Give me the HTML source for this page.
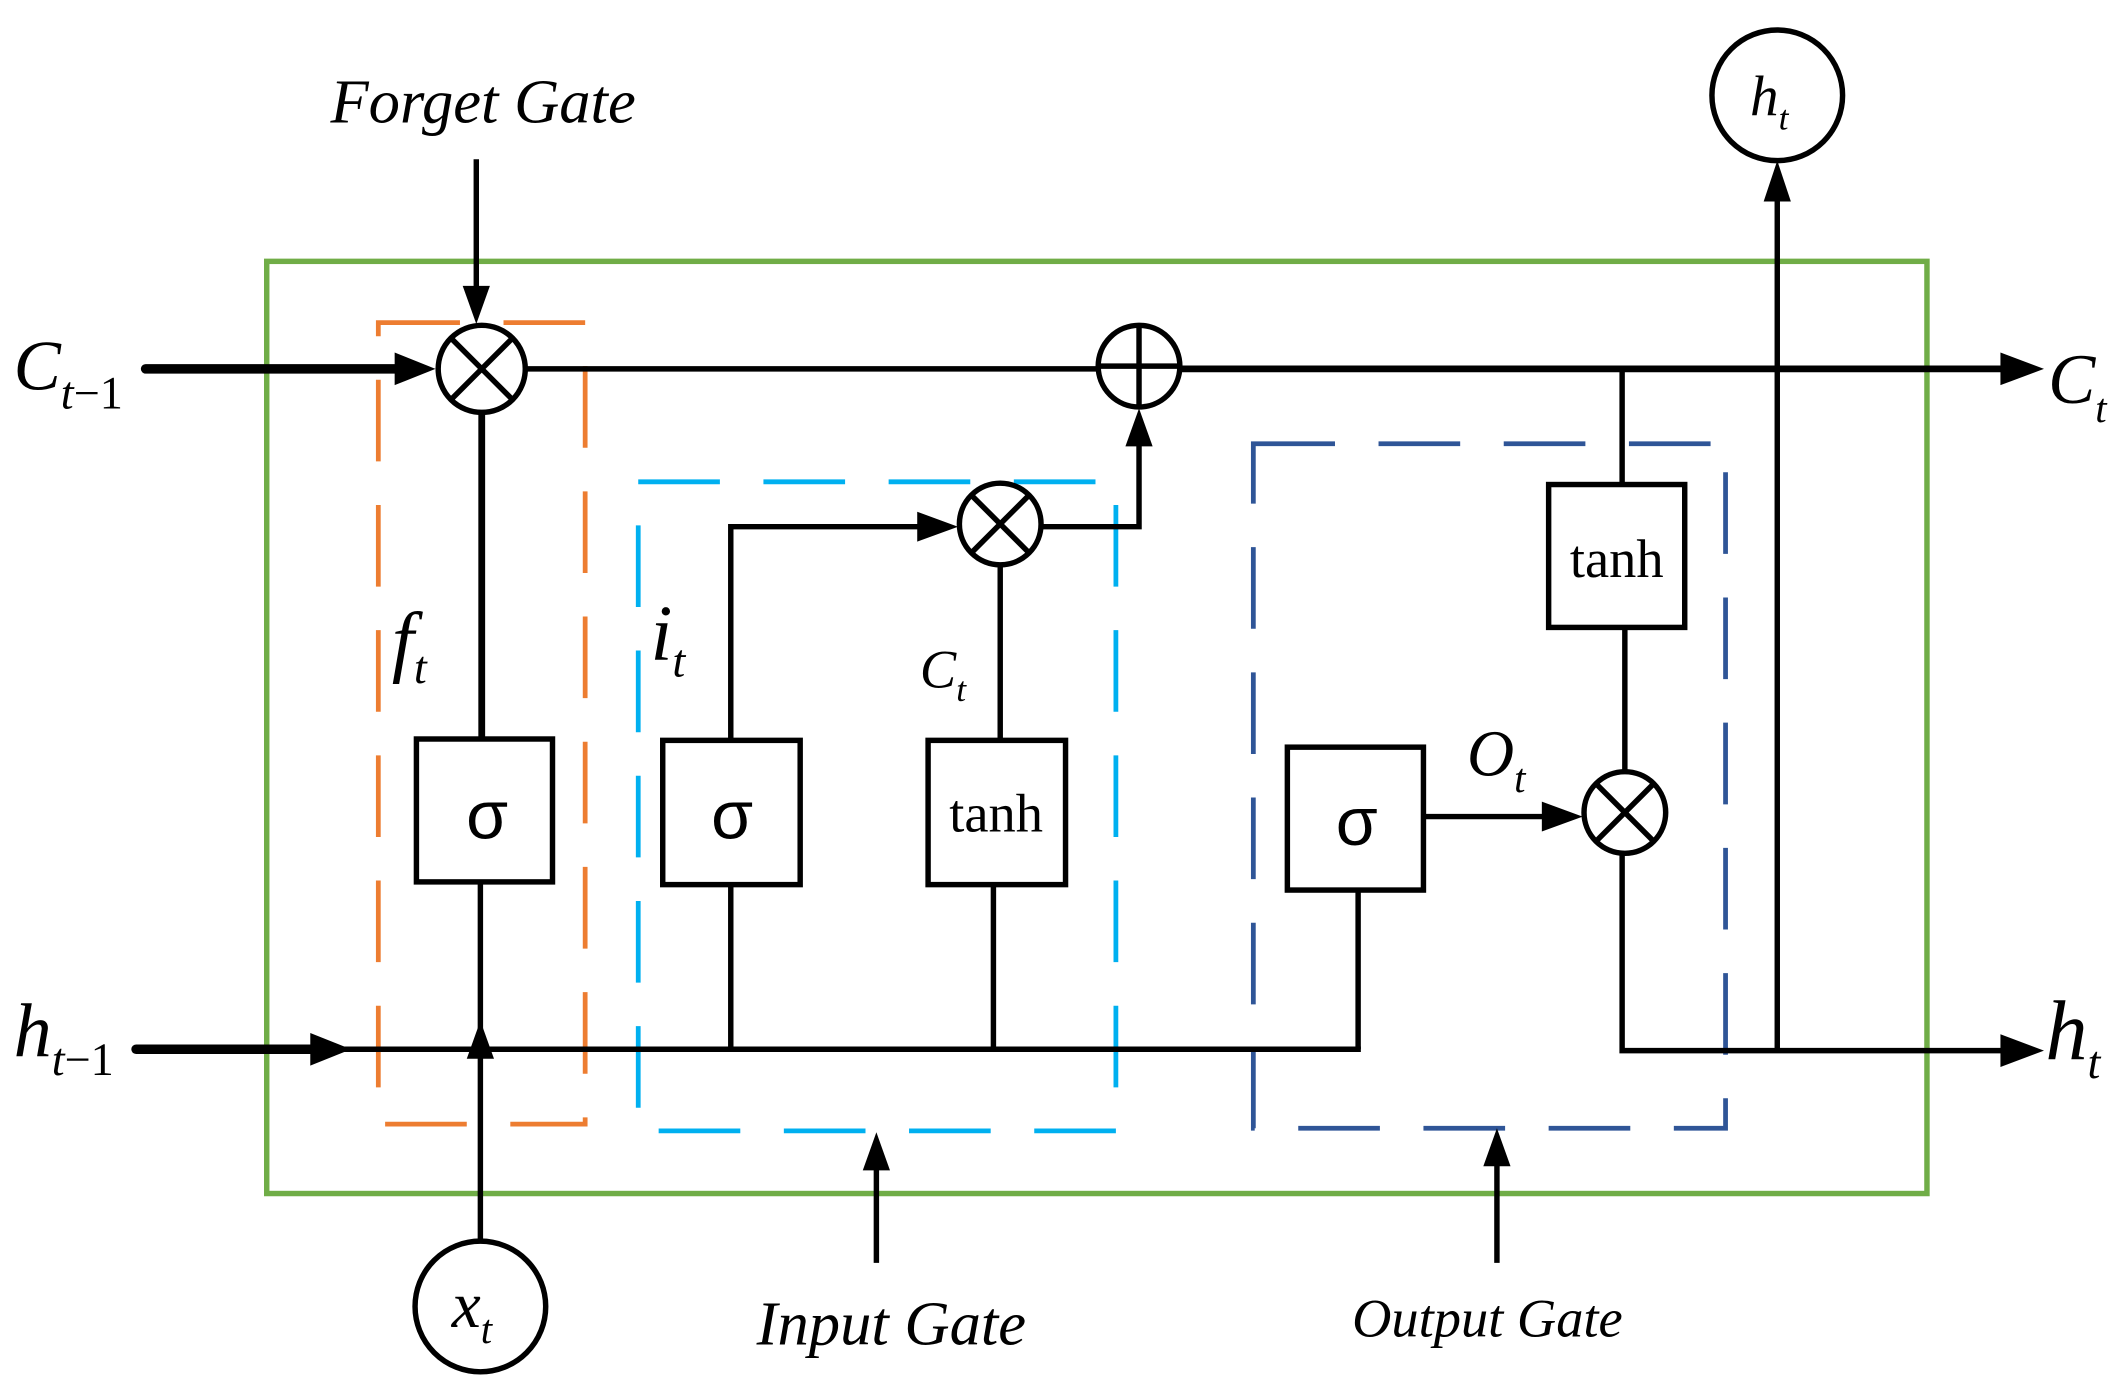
<!DOCTYPE html>
<html><head><meta charset="utf-8"><style>html,body{margin:0;padding:0;background:#fff}svg{display:block}</style></head>
<body>
<svg width="2127" height="1395" viewBox="0 0 1563 1025" xmlns="http://www.w3.org/2000/svg" font-family="Liberation Serif, serif">
<g fill="none">
<rect x="196" y="192" width="1220" height="685" stroke="#70ad47" stroke-width="4"/>
<rect x="278" y="237" width="152" height="589" stroke="#ed7d31" stroke-width="3.5" stroke-dasharray="60,32"/>
<rect x="469" y="354" width="351" height="477" stroke="#00b0f0" stroke-width="3.5" stroke-dasharray="60,32"/>
<rect x="921" y="326" width="347" height="503" stroke="#2f5597" stroke-width="3.5" stroke-dasharray="60,32"/>
</g>
<g stroke="#000" fill="none" stroke-width="4">
<line x1="107" y1="271" x2="300" y2="271" stroke-width="7" stroke-linecap="round"/>
<line x1="386" y1="271" x2="807" y2="271"/>
<line x1="867" y1="271" x2="1480" y2="271" stroke-width="5"/>
<line x1="350" y1="117" x2="350" y2="220"/>
<line x1="354" y1="303" x2="354" y2="543" stroke-width="5"/>
<line x1="353" y1="648" x2="353" y2="912"/>
<line x1="100" y1="771" x2="240" y2="771" stroke-width="7" stroke-linecap="round"/>
<line x1="240" y1="771" x2="1000" y2="771"/>
<line x1="998" y1="771" x2="998" y2="654"/>
<polyline points="537,544 537,387 690,387"/>
<line x1="735" y1="415" x2="735" y2="544"/>
<polyline points="765,387 837,387 837,315"/>
<line x1="537" y1="650" x2="537" y2="771"/>
<line x1="730" y1="650" x2="730" y2="771"/>
<line x1="1046" y1="600" x2="1145" y2="600"/>
<line x1="1192" y1="271" x2="1192" y2="356"/>
<line x1="1194" y1="461" x2="1194" y2="567"/>
<polyline points="1192,627 1192,772 1480,772"/>
<line x1="1306" y1="772" x2="1306" y2="135"/>
<line x1="644" y1="928" x2="644" y2="850"/>
<line x1="1100" y1="928" x2="1100" y2="848"/>
<circle cx="354" cy="271" r="32"/>
<line x1="332" y1="249" x2="376" y2="293"/><line x1="376" y1="249" x2="332" y2="293"/>
<circle cx="837" cy="269" r="30"/>
<line x1="807" y1="269" x2="867" y2="269"/><line x1="837" y1="239" x2="837" y2="299"/>
<circle cx="735" cy="385" r="30"/>
<line x1="714" y1="364" x2="756" y2="406"/><line x1="756" y1="364" x2="714" y2="406"/>
<circle cx="1194" cy="597" r="30"/>
<line x1="1173" y1="576" x2="1215" y2="618"/><line x1="1215" y1="576" x2="1173" y2="618"/>
<circle cx="353" cy="960" r="48"/>
<circle cx="1306" cy="70" r="48"/>
<rect x="306" y="543" width="100" height="105" fill="#fff"/>
<rect x="487" y="544" width="101" height="106" fill="#fff"/>
<rect x="682" y="544" width="101" height="106" fill="#fff"/>
<rect x="946" y="549" width="100" height="105" fill="#fff"/>
<rect x="1138" y="356" width="100" height="105" fill="#fff"/>
</g>
<g fill="#000">
<polygon points="320,271 290,259 290,283"/>
<polygon points="350,238 340,210 360,210"/>
<polygon points="258,771 228,759 228,783"/>
<polygon points="353,750 343,778 363,778"/>
<polygon points="704,387 674,376 674,398"/>
<polygon points="837,300 827,328 847,328"/>
<polygon points="1163,600 1133,589 1133,611"/>
<polygon points="1502,271 1470,259 1470,283"/>
<polygon points="1502,772 1470,760 1470,784"/>
<polygon points="1306,118 1296,148 1316,148"/>
<polygon points="644,832 634,860 654,860"/>
<polygon points="1100,829 1090,857 1110,857"/>
</g>
<g fill="#000" font-style="italic">
<text x="355" y="90" font-size="46" text-anchor="middle">Forget Gate</text>
<text x="655" y="988" font-size="46" text-anchor="middle">Input Gate</text>
<text x="1093" y="982" font-size="40" text-anchor="middle">Output Gate</text>
<text x="10" y="286" font-size="52">C<tspan font-size="34" dy="14">t</tspan><tspan font-style="normal" font-size="34">−1</tspan></text>
<text x="10" y="776" font-size="56">h<tspan font-size="34" dy="14">t</tspan><tspan font-style="normal" font-size="34">−1</tspan></text>
<text x="1505" y="296" font-size="52">C<tspan font-size="30" dy="14">t</tspan></text>
<text x="1503" y="778" font-size="62">h<tspan font-size="34" dy="14">t</tspan></text>
<text x="288" y="490" font-size="58">f<tspan font-size="34" dy="12">t</tspan></text>
<text x="478" y="485" font-size="58">i<tspan font-size="34" dy="12">t</tspan></text>
<text x="676" y="505" font-size="40">C<tspan font-size="26" dy="10">t</tspan></text>
<text x="1078" y="570" font-size="48">O<tspan font-size="30" dy="12">t</tspan></text>
<text x="332" y="975" font-size="48">x<tspan font-size="30" dy="12">t</tspan></text>
<text x="1286" y="85" font-size="42">h<tspan font-size="26" dy="10">t</tspan></text>
</g>
<g fill="#000" font-family="Liberation Sans, sans-serif" font-size="50" text-anchor="middle">
<text x="358" y="616">σ</text>
<text x="538" y="616">σ</text>
<text x="997" y="621">σ</text>
</g>
<g fill="#000" font-size="40" text-anchor="middle">
<text x="732" y="611">tanh</text>
<text x="1188" y="424">tanh</text>
</g>
</svg>
</body></html>
